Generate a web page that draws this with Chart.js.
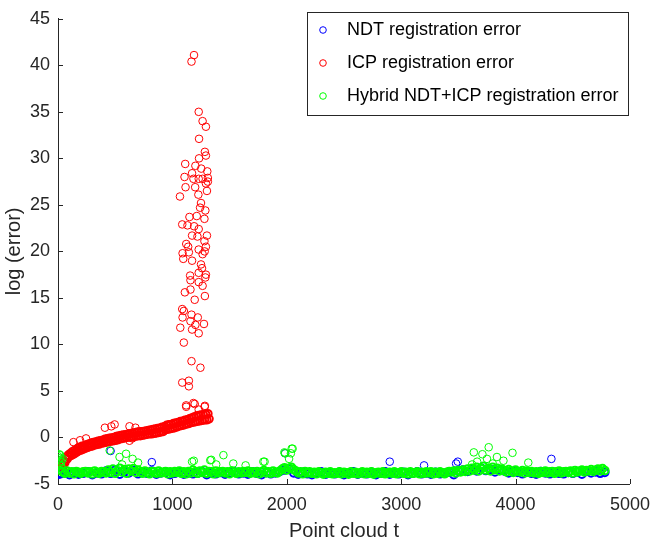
<!DOCTYPE html>
<html>
<head>
<meta charset="utf-8">
<script src="https://cdn.jsdelivr.net/npm/chart.js@4.4.1/dist/chart.umd.min.js"></script>
<style>
  body { margin: 0; background: #fff; }
  #wrap { width: 660px; height: 547px; }
</style>
</head>
<body>
<div id="wrap"><canvas id="errChart" width="660" height="547"></canvas></div>
<script>
// series labels
const seriesLabels = [
  "NDT registration error",
  "ICP registration error",
  "Hybrid NDT+ICP registration error",
];

const xTickValues = [0, 1000, 2000, 3000, 4000, 5000];
const yTickValues = [-5, 0, 5, 10, 15, 20, 25, 30, 35, 40, 45];

// dense bands: one value read every `step` frames starting at `start`
const ndtStart = 20, ndtStep = 40;
const ndtBand = [
  -3.9, -3.8, -4.0, -3.75, -3.95, -3.85, -3.7, -4.0, -3.8, -3.9,
  -3.6, -3.85, -3.5, -3.95, -3.65, -3.8, -3.55, -3.9, -3.7, -3.85,
  -3.6, -3.95, -3.8, -3.7, -4.0, -3.85, -3.75, -3.95, -3.8, -3.9,
  -3.85, -3.7, -4.0, -3.8, -3.9, -3.75, -3.95, -3.8, -3.7, -3.9,
  -3.8, -3.95, -3.7, -3.85, -4.0, -3.75, -3.9, -3.8, -3.65, -3.5,
  -3.4, -3.8, -3.95, -3.75, -3.9, -4.0, -3.85, -3.7, -3.95, -3.8,
  -3.9, -3.75, -4.0, -3.85, -3.7, -3.95, -3.8, -3.9, -3.75, -4.0,
  -3.85, -3.7, -3.95, -3.8, -3.9, -3.75, -4.0, -3.85, -3.7, -3.9,
  -3.8, -3.95, -3.75, -3.9, -3.85, -3.7, -4.0, -3.6, -3.5, -3.65,
  -3.4, -3.6, -3.3, -3.55, -3.45, -3.7, -3.5, -3.6, -3.8, -3.65,
  -3.75, -3.9, -3.7, -3.85, -3.95, -3.65, -3.8, -3.9, -3.75, -3.85,
  -3.9, -3.75, -3.85, -3.7, -3.95, -3.65, -3.8, -3.7, -3.85, -3.75,
];
const ndtExtra = [
  [0, -3.9], [5, -4.0], [10, -3.8], [15, -3.95], [460, -1.45], [820, -2.65],
  [1985, -1.7], [2900, -2.6], [3200, -3.0], [3480, -2.8], [3495, -2.6], [4313, -2.3],
];

const icpStart = 40, icpStep = 10;
const icpBand = [
  -3.1, -2.7, -2.7, -2.3, -2.3, -1.9, -2.0, -1.7, -1.9, -1.5,
  -1.75, -1.35, -1.6, -1.2, -1.45, -1.05, -1.35, -0.95, -1.25, -0.9,
  -1.15, -0.8, -1.05, -0.7, -0.95, -0.6, -0.9, -0.55, -0.8, -0.5,
  -0.75, -0.4, -0.7, -0.35, -0.6, -0.3, -0.55, -0.2, -0.5, -0.15,
  -0.45, -0.1, -0.4, -0.05, -0.35, 0.0, -0.3, 0.1, -0.25, 0.15,
  -0.15, 0.2, -0.1, 0.25, -0.05, 0.3, 0.0, 0.35, 0.05, 0.4,
  0.05, 0.45, 0.1, 0.5, 0.15, 0.55, 0.2, 0.6, 0.2, 0.6,
  0.25, 0.65, 0.3, 0.7, 0.35, 0.75, 0.4, 0.8, 0.4, 0.85,
  0.45, 0.9, 0.5, 0.95, 0.55, 1.0, 0.6, 1.1, 0.65, 1.15,
  0.85, 1.3, 0.9, 1.35, 0.95, 1.4, 1.0, 1.5, 1.05, 1.55,
  1.15, 1.6, 1.25, 1.7, 1.3, 1.75, 1.35, 1.85, 1.45, 1.9,
  1.5, 2.0, 1.6, 2.1, 1.65, 2.2, 1.7, 2.3, 1.75, 2.35,
  1.8, 2.4, 1.85, 2.45, 1.9, 2.5, 1.9, 2.55, 2.0,
];
const icpExtra = [
  [1189, 41.1], [1167, 40.4], [1230, 35.0], [1264, 34.0], [1293, 33.4], [1233, 32.1],
  [1284, 30.7], [1293, 30.3], [1233, 30.0], [1112, 29.4], [1201, 29.2], [1252, 28.9],
  [1305, 28.6], [1172, 28.4], [1106, 28.0], [1184, 27.8], [1230, 27.8], [1264, 27.8],
  [1310, 27.9], [1293, 27.3], [1310, 27.5], [1115, 26.9], [1199, 26.9], [1302, 26.5],
  [1227, 26.1], [1066, 25.9], [1250, 25.2], [1242, 24.7], [1288, 24.4], [1149, 23.7],
  [1213, 23.8], [1280, 23.5], [1086, 22.9], [1132, 22.8], [1190, 22.7], [1230, 22.4],
  [1172, 21.7], [1219, 21.6], [1302, 21.7], [1280, 21.1], [1121, 20.8], [1138, 20.5],
  [1293, 20.5], [1144, 19.9], [1230, 20.2], [1282, 20.0], [1089, 19.8], [1264, 19.7],
  [1095, 19.2], [1172, 19.0], [1250, 18.6], [1259, 18.2], [1155, 17.4], [1230, 17.7],
  [1293, 17.5], [1288, 17.2], [1158, 16.9], [1230, 16.7], [1264, 16.3], [1109, 15.6],
  [1158, 15.9], [1195, 14.8], [1284, 15.2], [1086, 13.8], [1100, 13.6], [1089, 12.9],
  [1167, 13.2], [1222, 12.9], [1158, 12.5], [1201, 12.1], [1276, 12.2], [1069, 11.8],
  [1172, 11.6], [1230, 11.2], [1100, 10.2], [1167, 8.2], [1245, 7.5], [1086, 5.9],
  [1144, 6.1], [1144, 5.5], [1121, 3.3], [1184, 3.7], [1284, 3.4], [1230, 3.0],
  [1120, 3.45], [1195, 3.6], [1282, 3.3],
  [135, -0.5], [193, -0.3], [245, -0.1], [410, 1.05], [466, 1.2], [495, 1.4],
  [625, 1.2], [677, 1.05], [625, -0.35], [650, -0.1],
];

const hybridStart = 40, hybridStep = 20;
const hybridBand = [
  -3.7, -3.85, -3.6, -3.8, -3.7, -3.9, -3.65, -3.75, -3.85, -3.7,
  -3.65, -3.8, -3.7, -3.9, -3.6, -3.75, -3.85, -3.65, -3.7, -3.8,
  -3.5, -3.75, -3.4, -3.85, -3.6, -3.3, -3.7, -3.45, -3.85, -3.4,
  -3.6, -3.35, -3.75, -3.5, -3.7, -3.85, -3.6, -3.75, -3.9, -3.65,
  -3.7, -3.85, -3.6, -3.8, -3.75, -3.65, -3.9, -3.7, -3.8, -3.65,
  -3.75, -3.6, -3.85, -3.7, -3.9, -3.65, -3.8, -3.5, -3.7, -3.85,
  -3.6, -3.75, -3.5, -3.85, -3.65, -3.7, -3.9, -3.6, -3.8, -3.7,
  -3.65, -3.8, -3.7, -3.9, -3.6, -3.75, -3.85, -3.7, -3.8, -3.65,
  -3.75, -3.6, -3.85, -3.7, -3.8, -3.65, -3.9, -3.7, -3.55, -3.8,
  -3.7, -3.85, -3.6, -3.75, -3.8, -3.6, -3.4, -3.25, -3.5, -3.3,
  -3.2, -3.45, -3.6, -3.8, -3.7, -3.9, -3.65, -3.8, -3.7, -3.85,
  -3.75, -3.9, -3.7, -3.8, -3.95, -3.75, -3.85, -3.7, -3.9, -3.8,
  -3.85, -3.7, -3.9, -3.75, -3.8, -3.95, -3.7, -3.85, -3.75, -3.9,
  -3.8, -3.7, -3.9, -3.75, -3.85, -3.7, -3.95, -3.8, -3.75, -3.85,
  -3.7, -3.9, -3.8, -3.75, -3.85, -3.7, -3.9, -3.8, -3.7, -3.85,
  -3.75, -3.9, -3.7, -3.85, -3.8, -3.7, -3.9, -3.75, -3.85, -3.7,
  -3.8, -3.7, -3.9, -3.75, -3.85, -3.7, -3.8, -3.9, -3.75, -3.65,
  -3.7, -3.6, -3.8, -3.55, -3.7, -3.5, -3.65, -3.4, -3.6, -3.3,
  -3.5, -3.2, -3.6, -3.35, -3.1, -3.5, -3.3, -3.6, -3.2, -3.45,
  -3.3, -3.6, -3.4, -3.55, -3.7, -3.45, -3.6, -3.75, -3.5, -3.65,
  -3.7, -3.55, -3.8, -3.6, -3.75, -3.65, -3.8, -3.7, -3.85, -3.65,
  -3.75, -3.6, -3.8, -3.7, -3.65, -3.85, -3.7, -3.6, -3.8, -3.7,
  -3.65, -3.75, -3.6, -3.8, -3.55, -3.7, -3.6, -3.5, -3.7, -3.55,
  -3.6, -3.45, -3.65, -3.5, -3.4, -3.6, -3.35, -3.55,
];
const hybridExtra = [
  [0, -2.0], [5, -2.4], [10, -1.8], [15, -2.8], [20, -2.2], [25, -3.0],
  [30, -2.6], [35, -3.3], [10, -3.5], [20, -1.9], [40, -2.3], [30, -3.6],
  [452, -1.4], [595, -1.75], [538, -2.1], [652, -2.3], [700, -2.7], [560, -2.9],
  [1172, -2.6], [1187, -2.5], [1331, -2.45], [1340, -2.4], [1383, -2.9], [1446, -1.9],
  [1532, -2.8], [1640, -3.0], [1795, -2.6], [1806, -2.6], [1979, -1.6], [1985, -1.7],
  [2036, -1.7], [2043, -1.2], [2051, -1.2], [2020, -2.3],
  [3620, -2.9], [3635, -1.6], [3664, -2.6], [3710, -1.8], [3750, -2.3], [3765, -1.05],
  [3837, -2.1], [3894, -2.5], [3973, -1.65], [4111, -2.7], [3800, -2.8],
];

function bandPoints(start, step, values) {
  return values.map((v, i) => ({ x: start + i * step, y: v }));
}
function pairPoints(pairs) {
  return pairs.map(([t, v]) => ({ x: t, y: v }));
}

const AXIS_COLOR = "#262626";
const FONT = "'Liberation Sans', Arial, Helvetica, sans-serif";
const SERIES_COLORS = ["#0000ff", "#ff0000", "#00ff00"];

// inward tick marks, MATLAB style
const innerTicks = {
  id: "innerTicks",
  afterDraw(chart) {
    const { ctx, chartArea, scales } = chart;
    ctx.save();
    ctx.strokeStyle = AXIS_COLOR;
    ctx.lineWidth = 1;
    ctx.beginPath();
    xTickValues.forEach((t) => {
      const px = Math.round(scales.x.getPixelForValue(t)) + 0.5;
      ctx.moveTo(px, chartArea.bottom);
      ctx.lineTo(px, chartArea.bottom - 5);
    });
    yTickValues.forEach((t) => {
      const py = Math.round(scales.y.getPixelForValue(t)) + 0.5;
      ctx.moveTo(chartArea.left, py);
      ctx.lineTo(chartArea.left + 5, py);
    });
    ctx.stroke();
    ctx.restore();
  },
};

// boxed legend in the top right corner
const boxLegend = {
  id: "boxLegend",
  afterDraw(chart) {
    const { ctx, chartArea } = chart;
    const right = Math.round(chartArea.right) - 1.5;
    const left = 307.5;
    const top = 12.5;
    const bottom = 115.5;
    ctx.save();
    ctx.fillStyle = "#fff";
    ctx.fillRect(left, top, right - left, bottom - top);
    ctx.strokeStyle = AXIS_COLOR;
    ctx.lineWidth = 1;
    ctx.strokeRect(left, top, right - left, bottom - top);
    ctx.font = "18px " + FONT;
    ctx.textBaseline = "middle";
    ctx.textAlign = "left";
    chart.data.datasets.forEach((ds, i) => {
      const y = 30 + i * 33;
      ctx.beginPath();
      ctx.arc(323, y, 3.3, 0, Math.PI * 2);
      ctx.strokeStyle = ds.borderColor;
      ctx.stroke();
      ctx.fillStyle = "#000";
      ctx.fillText(ds.label, 347, y);
    });
    ctx.restore();
  },
};

const ctx = document.getElementById("errChart");

// band points (the first `bandLen` of a dataset) are drawn with a heavier
// outline so the overlapping circles read as the solid strip of the original
function markerStyle(bandLen, bandWidth) {
  return {
    showLine: false,
    pointStyle: "circle",
    pointRadius: 3.8,
    pointBorderWidth: (c) => (c.dataIndex < bandLen ? bandWidth : 1),
    backgroundColor: "rgba(0,0,0,0)",
  };
}

new Chart(ctx, {
  type: "scatter",
  data: {
    datasets: [
      {
        label: seriesLabels[0],
        data: bandPoints(ndtStart, ndtStep, ndtBand).concat(pairPoints(ndtExtra)),
        borderColor: SERIES_COLORS[0],
        order: 2,
        ...markerStyle(ndtBand.length, 2),
      },
      {
        label: seriesLabels[1],
        data: bandPoints(icpStart, icpStep, icpBand).concat(pairPoints(icpExtra)),
        borderColor: SERIES_COLORS[1],
        order: 1,
        ...markerStyle(icpBand.length, 2),
      },
      {
        label: seriesLabels[2],
        data: bandPoints(hybridStart, hybridStep, hybridBand).concat(pairPoints(hybridExtra)),
        borderColor: SERIES_COLORS[2],
        order: 0,
        ...markerStyle(hybridBand.length, 2),
      },
    ],
  },
  options: {
    responsive: false,
    animation: false,
    events: [],
    layout: { padding: { left: 0, top: 9.5, right: 23, bottom: 0 } },
    plugins: {
      legend: { display: false },
      tooltip: { enabled: false },
    },
    scales: {
      x: {
        type: "linear",
        min: 0,
        max: 5000,
        afterBuildTicks: (scale) => {
          scale.ticks = xTickValues.map((v) => ({ value: v }));
        },
        afterFit: (scale) => {
          scale.height = 63;
        },
        grid: { drawOnChartArea: false, drawTicks: false },
        border: { display: true, color: AXIS_COLOR, width: 1 },
        ticks: {
          padding: 10,
          color: AXIS_COLOR,
          font: { family: FONT, size: 18 },
          maxRotation: 0,
          callback: (v) => String(v),
        },
        title: {
          display: true,
          text: "Point cloud t",
          color: AXIS_COLOR,
          font: { family: FONT, size: 20 },
          padding: { top: 0, bottom: 4 },
        },
      },
      y: {
        type: "linear",
        min: -5,
        max: 45,
        afterBuildTicks: (scale) => {
          scale.ticks = yTickValues.map((v) => ({ value: v }));
        },
        afterFit: (scale) => {
          scale.width = 58;
        },
        grid: { drawOnChartArea: false, drawTicks: false },
        border: { display: true, color: AXIS_COLOR, width: 1 },
        ticks: {
          padding: 8,
          color: AXIS_COLOR,
          font: { family: FONT, size: 18 },
          callback: (v) => String(v),
        },
        title: {
          display: true,
          text: "log (error)",
          color: AXIS_COLOR,
          font: { family: FONT, size: 20 },
          padding: { top: 2, bottom: 0 },
        },
      },
    },
  },
  plugins: [innerTicks, boxLegend],
});
</script>
</body>
</html>
